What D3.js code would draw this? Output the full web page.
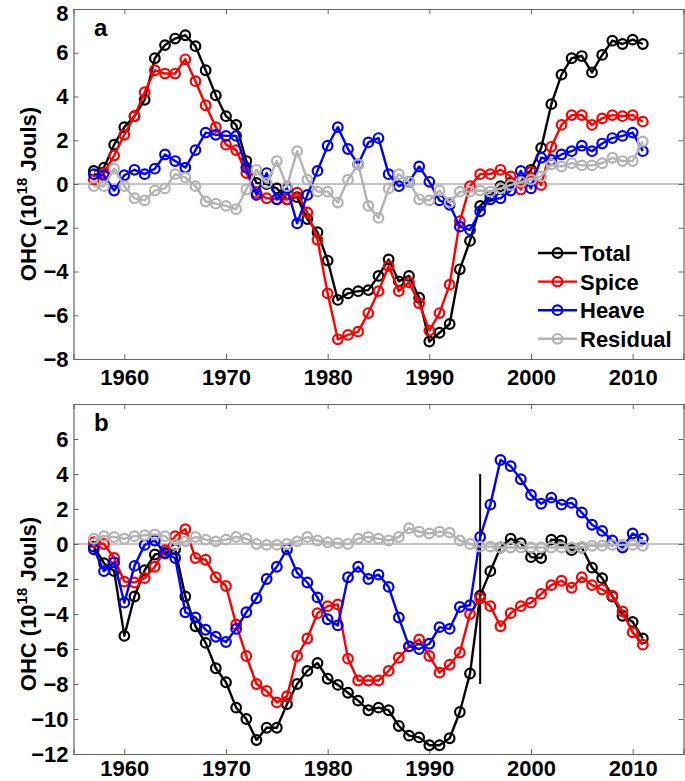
<!DOCTYPE html>
<html><head><meta charset="utf-8">
<script src="https://cdn.jsdelivr.net/npm/d3@7"></script>
<style>
body{margin:0;background:#fff}
text{font-family:"Liberation Sans",Arial,Helvetica,sans-serif;font-weight:bold;fill:#000}
</style>
</head><body>
<svg id="c" width="685" height="781"></svg>
<script>
const years=[1957,1958,1959,1960,1961,1962,1963,1964,1965,1966,1967,1968,1969,1970,1971,1972,1973,1974,1975,1976,1977,1978,1979,1980,1981,1982,1983,1984,1985,1986,1987,1988,1989,1990,1991,1992,1993,1994,1995,1996,1997,1998,1999,2000,2001,2002,2003,2004,2005,2006,2007,2008,2009,2010,2011];

const totalA=[0.6,0.75,1.8,2.6,3.1,3.85,5.75,6.35,6.65,6.8,
6.3,5.2,4.05,3.1,2.7,1.05,0.05,0.0,-0.2,-0.7,
-0.6,-1.6,-2.2,-3.5,-5.3,-5.0,-4.9,-4.85,-4.2,-3.45,
-4.45,-4.2,-5.2,-7.2,-6.8,-6.4,-3.9,-2.6,-1.0,-0.55,
-0.1,0.05,0.1,0.65,1.65,3.65,5.0,5.75,5.85,5.1,
5.9,6.55,6.4,6.6,6.4];
const spiceA=[0.2,0.5,1.3,2.25,3.1,4.2,5.2,5.05,5.05,5.7,
4.7,3.6,2.6,1.8,1.55,0.5,-0.4,-0.65,-0.7,-0.7,
-0.4,-1.3,-2.55,-5.0,-7.1,-6.9,-6.75,-5.9,-4.9,-3.75,
-4.9,-4.5,-5.45,-6.7,-5.9,-4.6,-1.7,-0.1,0.45,0.45,
0.65,0.35,-0.25,0.55,-0.05,1.7,2.7,3.15,3.15,2.7,
3.0,3.15,3.1,3.15,2.85];
const heaveA=[0.45,0.4,-0.3,0.4,0.65,0.45,0.7,1.35,1.05,0.75,
1.55,2.35,2.25,2.2,2.2,0.75,-0.5,0.5,-0.7,-0.2,
-1.8,-0.5,0.6,1.75,2.6,1.6,0.9,1.9,2.1,0.45,
-0.1,0.1,0.8,0.1,-0.75,-0.95,-1.95,-2.1,-1.25,-0.7,
-0.65,-0.3,0.6,-0.2,1.2,1.1,1.35,1.5,1.75,1.5,
1.85,2.1,2.2,2.35,1.5];
const residA=[-0.1,-0.1,0.7,-0.1,-0.65,-0.75,-0.3,-0.2,0.45,0.3,
-0.1,-0.8,-0.9,-1.0,-1.15,-0.25,0.65,0.05,1.05,-0.1,
1.5,0.2,-0.35,-0.35,-0.85,0.2,0.9,-1.0,-1.55,-0.2,
0.45,0.1,-0.7,-0.75,-0.3,-0.85,-0.35,-0.35,-0.3,-0.35,
-0.2,-0.05,0.1,0.2,0.35,0.9,0.8,0.95,0.85,0.85,
0.95,1.2,1.05,1.05,1.95];

const totalB=[-0.15,-1.1,-1.55,-5.25,-3.0,-1.5,-0.6,-0.5,-0.3,-3.0,
-4.7,-5.65,-7.1,-7.9,-9.35,-10.0,-11.2,-10.5,-10.5,-9.15,
-8.0,-7.25,-6.8,-7.7,-8.05,-8.5,-8.95,-9.5,-9.35,-9.5,
-10.4,-10.95,-11.05,-11.5,-11.5,-11.1,-9.6,-7.4,-2.95,-1.55,
-0.2,0.3,0.05,-0.75,-0.8,0.25,0.2,-0.35,-0.2,-1.35,
-1.95,-3.0,-4.1,-4.45,-5.4];
const spiceB=[0.1,0,-0.8,-2.15,-2.2,-1.95,-1.3,-0.35,0.45,0.85,
-0.8,-0.9,-1.9,-2.4,-4.6,-6.4,-8.0,-8.4,-9.05,-8.7,
-6.4,-5.4,-3.95,-3.55,-3.45,-6.55,-7.8,-7.8,-7.8,-7.25,
-6.5,-5.85,-5.45,-6.4,-7.35,-6.9,-6.2,-4.0,-3.1,-3.55,
-4.7,-3.95,-3.55,-3.35,-2.85,-2.35,-2.1,-2.5,-1.9,-2.35,
-2.6,-2.95,-3.85,-5.05,-5.75];
const heaveB=[-0.3,-1.55,-1.05,-3.35,-1.25,-0.05,0.2,-0.55,-0.8,-3.9,
-4.2,-4.9,-5.3,-5.6,-4.85,-3.9,-3.1,-2.0,-1.3,-0.3,
-1.65,-2.2,-3.05,-4.3,-4.65,-1.9,-1.3,-2.0,-1.75,-2.45,
-4.2,-5.85,-6.0,-5.7,-4.75,-4.85,-3.6,-3.5,0.4,2.25,
4.8,4.45,3.7,2.8,2.3,2.65,2.25,2.35,1.8,1.1,
0.75,0.2,-0.2,0.6,0.3];
const residB=[0.3,0.45,0.4,0.3,0.45,0.5,0.55,0.45,-0.05,0.15,
0.4,0.25,0.15,0.25,0.4,0.3,0,-0.05,-0.05,0,
0.15,0.4,0.2,0.1,0.05,0,0.3,0.4,0.3,0.2,
0.4,0.9,0.7,0.6,0.7,0.65,0.2,0,-0.15,-0.15,
-0.2,-0.2,-0.2,-0.2,-0.2,-0.2,-0.2,-0.2,-0.2,-0.1,
-0.1,-0.05,-0.05,-0.05,-0.1];

const seriesNames=["Total","Spice","Heave","Residual"];
const seriesColors=["#000000","#ff0000","#0000ff","#b3b3b3"];
const xTicks=[1960,1970,1980,1990,2000,2010];
const yTicksA=[-8,-6,-4,-2,0,2,4,6,8];
const yTicksB=[-12,-10,-8,-6,-4,-2,0,2,4,6];
const panelLabels=["a","b"];
const yLabelParts=["OHC (10","18"," Jouls)"];
const markerYear=1995, markerRange=[-8,4];

const svg=d3.select("#c");
const x=d3.scaleLinear().domain([1955,2015]).range([73.5,683.5]);

function panel(cfg){
  const y=d3.scaleLinear().domain(cfg.yDomain).range([cfg.bottom,cfg.top]);
  const g=svg.append("g");
  const axisColor="#666";
  g.append("line").attr("x1",x.range()[0]).attr("x2",x.range()[1])
    .attr("y1",y(0)).attr("y2",y(0)).attr("stroke","#8c8c8c").attr("stroke-width",1);
  const ax=[
    g.append("g").attr("transform",`translate(0,${cfg.bottom})`).call(d3.axisBottom(x).tickValues(xTicks).tickFormat(d3.format("d")).tickSize(-5).tickPadding(cfg.xPad)),
    g.append("g").attr("transform",`translate(0,${cfg.top})`).call(d3.axisTop(x).tickValues(xTicks).tickFormat("").tickSize(-5)),
    g.append("g").attr("transform",`translate(${x.range()[0]},0)`).call(d3.axisLeft(y).tickValues(cfg.yTicks).tickSize(-5).tickPadding(5)),
    g.append("g").attr("transform",`translate(${x.range()[1]},0)`).call(d3.axisRight(y).tickValues(cfg.yTicks).tickFormat("").tickSize(-5))
  ];
  ax.forEach(a=>{
    a.selectAll("path.domain").attr("stroke",axisColor).attr("stroke-width",1.2);
    a.selectAll(".tick line").attr("stroke",axisColor).attr("stroke-width",1);
    a.selectAll("text").attr("font-size",22).attr("font-family","'Liberation Sans',Arial,sans-serif").attr("font-weight","bold").attr("fill","#000");
  });
  // keep the topmost y tick label inside the picture
  ax[2].selectAll(".tick text").filter(d=>y(d)<12).attr("dy","0.5em");
  g.append("text").attr("x",94).attr("y",cfg.top+27).attr("font-size",24).text(cfg.label);
  const yl=g.append("text").attr("transform",`translate(36,${cfg.ylabCenter}) rotate(-90)`)
    .attr("text-anchor","middle").attr("font-size",22);
  yl.append("tspan").text(yLabelParts[0]);
  yl.append("tspan").attr("dy",-9).attr("font-size",15).text(yLabelParts[1]);
  yl.append("tspan").attr("dy",9).text(yLabelParts[2]);
  if(cfg.vline){
    g.append("line").attr("x1",x(markerYear)).attr("x2",x(markerYear))
      .attr("y1",y(markerRange[0])).attr("y2",y(markerRange[1]))
      .attr("stroke","#000").attr("stroke-width",2);
  }
  const line=d3.line().x((d,i)=>x(years[i])).y(d=>y(d));
  cfg.data.forEach((vals,k)=>{
    const sg=g.append("g");
    sg.append("path").datum(vals).attr("d",line).attr("fill","none")
      .attr("stroke",seriesColors[k]).attr("stroke-width",2.4).attr("stroke-linejoin","round");
    sg.selectAll("circle").data(vals).join("circle")
      .attr("cx",(d,i)=>x(years[i])).attr("cy",d=>y(d)).attr("r",4.8)
      .attr("fill","none").attr("stroke",seriesColors[k]).attr("stroke-width",2.2);
  });
  if(cfg.legend){
    const lg=g.append("g");
    seriesNames.forEach((n,k)=>{
      const yy=253+k*28.6;
      lg.append("line").attr("x1",538).attr("x2",577).attr("y1",yy).attr("y2",yy)
        .attr("stroke",seriesColors[k]).attr("stroke-width",2.4);
      lg.append("circle").attr("cx",557.5).attr("cy",yy).attr("r",4.8)
        .attr("fill","none").attr("stroke",seriesColors[k]).attr("stroke-width",2.2);
      lg.append("text").attr("x",580).attr("y",yy+8).attr("font-size",22).text(n);
    });
  }
}

panel({top:9,bottom:359,yDomain:[-8,8],yTicks:yTicksA,label:panelLabels[0],ylabCenter:194,xPad:10,
  data:[totalA,spiceA,heaveA,residA],legend:true,vline:false});
panel({top:404,bottom:754,yDomain:[-12,8],yTicks:yTicksB,label:panelLabels[1],ylabCenter:604,xPad:6,
  data:[totalB,spiceB,heaveB,residB],legend:false,vline:true});
</script>
</body></html>
